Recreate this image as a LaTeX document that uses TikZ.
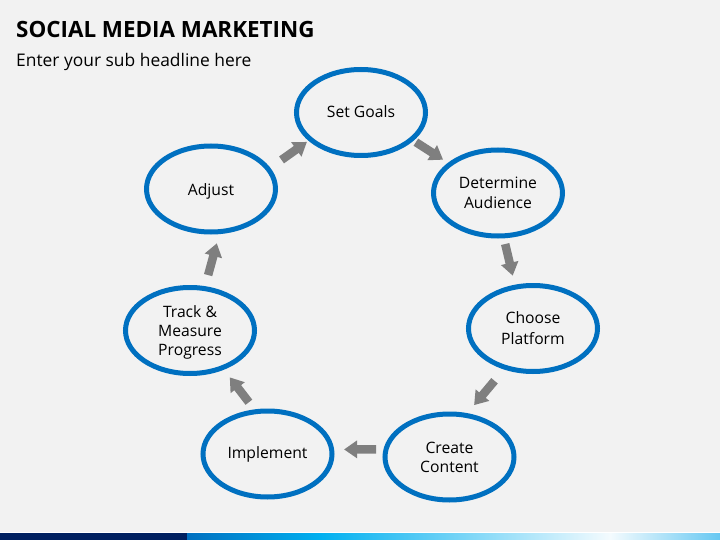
\documentclass[tikz,border=0pt]{standalone}
\usepackage{fontspec}
\setmainfont{Open Sans}
\usetikzlibrary{shapes.geometric,arrows.meta}
\definecolor{pagebg}{HTML}{F2F2F2}
\definecolor{ringblue}{HTML}{0070C0}
\definecolor{arrowgray}{HTML}{7F7F7F}
\definecolor{navy}{HTML}{002060}
\definecolor{skyb}{HTML}{00B0F0}
\definecolor{paleb}{HTML}{F4FBFE}
\definecolor{endb}{HTML}{66C8F2}
\newcommand\nudged[2]{\raisebox{#1}[\height][\depth]{#2}}
\tikzset{
  ring/.style={ellipse,draw=ringblue,line width=5pt,minimum width=129pt,minimum height=86pt,inner sep=0pt,outer sep=0pt,align=center,font=\fontsize{15.7}{19}\selectfont,text=black},
  flow/.style={draw=arrowgray,line width=8.5pt,-{Triangle[length=13pt,width=17pt]}},
  txt/.style={anchor=west,inner sep=0pt,text=black}
}
\begin{document}
\begin{tikzpicture}[x=1pt,y=-1pt]
\useasboundingbox (0,0) rectangle (720,540);
\fill[pagebg] (0,0) rectangle (720,540);
\fill[white] (0,532) rectangle (720,533);
\fill[navy] (0,533) rectangle (187,540);
\shade[left color=ringblue,right color=skyb] (187,533) rectangle (320,540);
\shade[left color=skyb,right color=paleb] (320,533) rectangle (610,540);
\shade[left color=paleb,right color=endb] (610,533) rectangle (720,540);
\node[txt,font=\bfseries\fontsize{22.4}{26}\selectfont] (title) at (16,29) {SOCIAL MEDIA MARKETING};
\node[txt,font=\fontsize{17.4}{21}\selectfont] (sub) at (16,61.5) {Enter your sub headline here};
\node[ring] (goals) at (361,112.5) {\nudged{1pt}{Set Goals}};
\node[ring] (aud) at (498,193) {Determine\\[0.5pt]Audience};
\node[ring] (plat) at (533,328.5) {Choose\\[2pt]Platform};
\node[ring] (cont) at (449.5,457) {\rule{0pt}{13pt}Create\\Content};
\node[ring] (impl) at (267.5,454) {\nudged{-0.5pt}{Implement}};
\node[ring] (track) at (190,330.5) {\rule{0pt}{16pt}Track \&\\Measure\\Progress};
\node[ring] (adj) at (211,189) {\nudged{-2pt}{Adjust}};
\draw[flow,shorten <=16.2pt,shorten >=4.5pt] (adj.19.9) -- (goals.-152.2);
\draw[flow,shorten <=5.3pt,shorten >=8.3pt] (goals.-28.8) -- (aud.149.4);
\draw[flow,shorten <=8.4pt,shorten >=11.8pt] (aud.-83.2) -- (plat.113.7);
\draw[flow,shorten <=17.4pt,shorten >=13.4pt] (plat.-125.4) -- (cont.69.1);
\draw[flow,shorten <=10pt,shorten >=12.4pt] (cont.173.1) -- (impl.4.2);
\draw[flow,shorten <=11.9pt,shorten >=12.2pt] (impl.105.7) -- (track.-49.7);
\draw[flow,shorten <=14pt,shorten >=12.2pt] (track.71.7) -- (adj.-78.1);
\end{tikzpicture}
\end{document}
